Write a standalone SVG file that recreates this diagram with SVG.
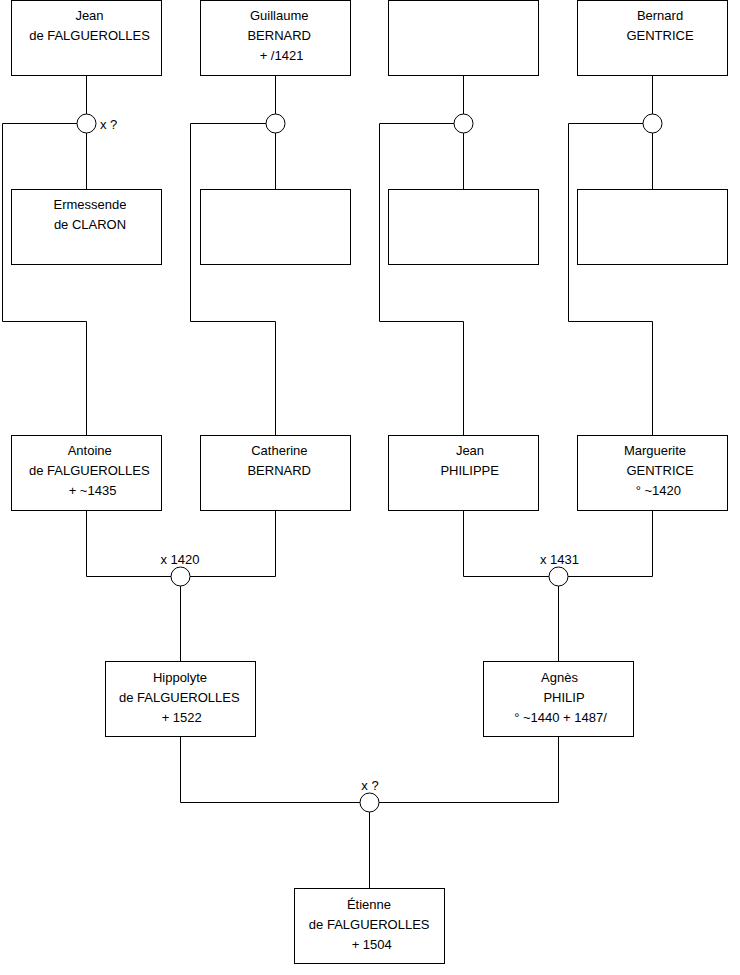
<svg xmlns="http://www.w3.org/2000/svg" width="740" height="975" viewBox="0 0 740 975">
<style>
.box{fill:#fff;stroke:#000;stroke-width:1}
.mar{fill:#fff;stroke:#000;stroke-width:1}
.ln{fill:none;stroke:#000;stroke-width:1}
text{font-family:"Liberation Sans",Arial,sans-serif;font-size:13px;fill:#000;text-anchor:middle}
.lbl{text-anchor:start}
</style>
<rect width="740" height="975" fill="#fff"/>
<g id="connectors">
<path class="ln" d="M86.5 75.5V114M86.5 133V189.5M2.5 123.5H77M2.5 123.5V321.5H86.5V435.5"/>
<path class="ln" d="M275.5 75.5V114M275.5 133V189.5M190.5 123.5H266M190.5 123.5V321.5H275.5V435.5"/>
<path class="ln" d="M463.5 75.5V114M463.5 133V189.5M379.5 123.5H454M379.5 123.5V321.5H463.5V435.5"/>
<path class="ln" d="M652.5 75.5V114M652.5 133V189.5M568.5 123.5H643M568.5 123.5V321.5H652.5V435.5"/>
<path class="ln" d="M86.5 510.5V576.5H171M190 576.5H275.5V510.5M180.5 586V661.5"/>
<path class="ln" d="M463.5 510.5V576.5H549M568 576.5H652.5V510.5M558.5 586V661.5"/>
<path class="ln" d="M180.5 736.5V802.5H360M379 802.5H558.5V736.5M369.5 812V888.5"/>
</g>
<g id="m1"><circle class="mar" cx="86.5" cy="123.5" r="9.5"/><text class="lbl" x="100" y="128.5">x ?</text></g>
<g id="m2"><circle class="mar" cx="275.5" cy="123.5" r="9.5"/></g>
<g id="m3"><circle class="mar" cx="463.5" cy="123.5" r="9.5"/></g>
<g id="m4"><circle class="mar" cx="652.5" cy="123.5" r="9.5"/></g>
<g id="m5"><circle class="mar" cx="180.5" cy="576.5" r="9.5"/><text x="180" y="564">x 1420</text></g>
<g id="m6"><circle class="mar" cx="558.5" cy="576.5" r="9.5"/><text x="559.5" y="564">x 1431</text></g>
<g id="m7"><circle class="mar" cx="369.5" cy="802.5" r="9.5"/><text x="370" y="789.5">x ?</text></g>

<g id="jean-falguerolles"><rect class="box" x="11.5" y="0.5" width="150" height="75"/><text x="89.5" y="20">Jean</text><text x="89.5" y="40">de FALGUEROLLES</text></g>
<g id="guillaume-bernard"><rect class="box" x="200.5" y="0.5" width="150" height="75"/><text x="279.2" y="20">Guillaume</text><text x="279.2" y="40">BERNARD</text><text x="281.5" y="60">+ /1421</text></g>
<g id="unknown-1"><rect class="box" x="388.5" y="0.5" width="150" height="75"/></g>
<g id="bernard-gentrice"><rect class="box" x="577.5" y="0.5" width="150" height="75"/><text x="660" y="20">Bernard</text><text x="660" y="40">GENTRICE</text></g>

<g id="ermessende-claron"><rect class="box" x="11.5" y="189.5" width="150" height="75"/><text x="90" y="209">Ermessende</text><text x="90" y="229">de CLARON</text></g>
<g id="unknown-2"><rect class="box" x="200.5" y="189.5" width="150" height="75"/></g>
<g id="unknown-3"><rect class="box" x="388.5" y="189.5" width="150" height="75"/></g>
<g id="unknown-4"><rect class="box" x="577.5" y="189.5" width="150" height="75"/></g>

<g id="antoine-falguerolles"><rect class="box" x="11.5" y="435.5" width="150" height="75"/><text x="89.7" y="455">Antoine</text><text x="89.3" y="475">de FALGUEROLLES</text><text x="92.5" y="495">+ ~1435</text></g>
<g id="catherine-bernard"><rect class="box" x="200.5" y="435.5" width="150" height="75"/><text x="279.4" y="455">Catherine</text><text x="279.2" y="475">BERNARD</text></g>
<g id="jean-philippe"><rect class="box" x="388.5" y="435.5" width="150" height="75"/><text x="470" y="455">Jean</text><text x="469.7" y="475">PHILIPPE</text></g>
<g id="marguerite-gentrice"><rect class="box" x="577.5" y="435.5" width="150" height="75"/><text x="655" y="455">Marguerite</text><text x="660" y="475">GENTRICE</text><text x="658.3" y="495">° ~1420</text></g>

<g id="hippolyte-falguerolles"><rect class="box" x="105.5" y="661.5" width="150" height="75"/><text x="180" y="682">Hippolyte</text><text x="179.3" y="702">de FALGUEROLLES</text><text x="181.7" y="722">+ 1522</text></g>
<g id="agnes-philip"><rect class="box" x="483.5" y="661.5" width="150" height="75"/><text x="559.5" y="682">Agnès</text><text x="564" y="702">PHILIP</text><text x="560.5" y="722">° ~1440 + 1487/</text></g>

<g id="etienne-falguerolles"><rect class="box" x="294.5" y="888.5" width="150" height="75"/><text x="369" y="909">Étienne</text><text x="369.2" y="929">de FALGUEROLLES</text><text x="371.7" y="949">+ 1504</text></g>
</svg>
